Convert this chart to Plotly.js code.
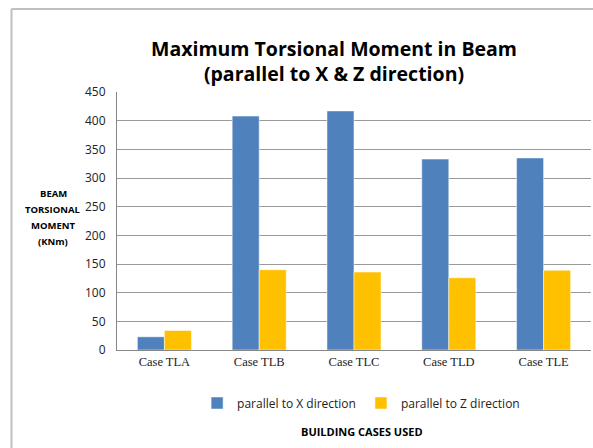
<!DOCTYPE html>
<html>
<head>
<meta charset="utf-8">
<script src="https://cdn.plot.ly/plotly-3.0.1.min.js"></script>
<style>html,body{margin:0;padding:0;background:#fff;}#chart{width:593px;height:448px;}</style>
</head>
<body>
<div id="chart"></div>
<script>
const categories = ["Case TLA", "Case TLB", "Case TLC", "Case TLD", "Case TLE"];
const seriesNames = ["parallel to X direction", "parallel to Z direction"];
const xValues = [23, 408, 417, 333, 335];
const zValues = [34, 140, 136, 126, 139];
const yTicks = [0, 50, 100, 150, 200, 250, 300, 350, 400, 450];
const yTitleLines = ["BEAM", "TORSIONAL", "MOMENT", "(KNm)"];

const W = 593, H = 448;
const m = {l: 117, r: 2, t: 92, b: 98};
const pw = W - m.l - m.r, ph = H - m.t - m.b;
const px = x => (x - m.l) / pw;
const py = y => (H - m.b - y) / ph;

const traces = [
  {type: "bar", name: seriesNames[0], x: categories, y: xValues, marker: {color: "#4F81BD", line: {color: "#ffffff", width: 0.5}}},
  {type: "bar", name: seriesNames[1], x: categories, y: zValues, marker: {color: "#FFC000", line: {color: "#ffffff", width: 0.5}}}
];

const yTitleAnns = yTitleLines.map((t, i) => ({
  text: "<b>" + t + "</b>", xref: "paper", yref: "paper",
  x: px(53), y: py(193 + i * 16.3), xanchor: "center", yanchor: "middle", showarrow: false,
  font: {family: "Open Sans, Liberation Sans, sans-serif", size: 9.5, color: "#000"}
}));

const layout = {
  width: W, height: H,
  margin: m,
  paper_bgcolor: "#fff", plot_bgcolor: "#fff",
  barmode: "group", bargap: 0.43, bargroupgap: 0,
  showlegend: true,
  legend: {orientation: "h", x: 0.515, xanchor: "center", y: py(403), yanchor: "middle",
    font: {family: "Open Sans, Liberation Sans, sans-serif", size: 12, color: "#222"},
    itemwidth: 30, traceorder: "normal", tracegroupgap: 0},
  title: {text: "Maximum Torsional Moment in Beam<br>(parallel to X & Z direction)",
    font: {family: "Open Sans, sans-serif", size: 19.5, color: "#000", weight: "bold"},
    x: 334 / W, xref: "container", xanchor: "center", y: 1 - 56 / H, yanchor: "middle"},
  xaxis: {type: "category", showgrid: false, showline: true, linecolor: "#868686", linewidth: 1,
    ticks: "", tickfont: {family: "Liberation Serif, Times New Roman, serif", size: 12.5, color: "#222"},
    fixedrange: true},
  yaxis: {range: [0, 450], tickvals: yTicks, ticktext: yTicks.map(String), showgrid: true,
    gridcolor: "#9a9a9a", gridwidth: 1, showline: true, linecolor: "#868686", linewidth: 1,
    zeroline: false, ticks: "", ticklabelstandoff: 8,
    tickfont: {family: "Open Sans, Liberation Sans, sans-serif", size: 12, color: "#222"}},
  annotations: yTitleAnns.concat([
    {text: "<b>BUILDING CASES USED</b>", xref: "paper", yref: "paper",
      x: px(362), y: py(431), xanchor: "center", yanchor: "middle", showarrow: false,
      font: {family: "Open Sans, Liberation Sans, sans-serif", size: 11, color: "#000"}}
  ]),
  shapes: [
    {type: "line", xref: "paper", yref: "paper", x0: px(11.5), x1: px(11.5), y0: py(9), y1: py(450),
      line: {color: "#c0c0c0", width: 2}},
    {type: "line", xref: "paper", yref: "paper", x0: px(11.5), x1: px(595), y0: py(9), y1: py(9),
      line: {color: "#c0c0c0", width: 2}}
  ]
};

Plotly.newPlot("chart", traces, layout, {displayModeBar: false, staticPlot: true});
</script>
</body>
</html>
